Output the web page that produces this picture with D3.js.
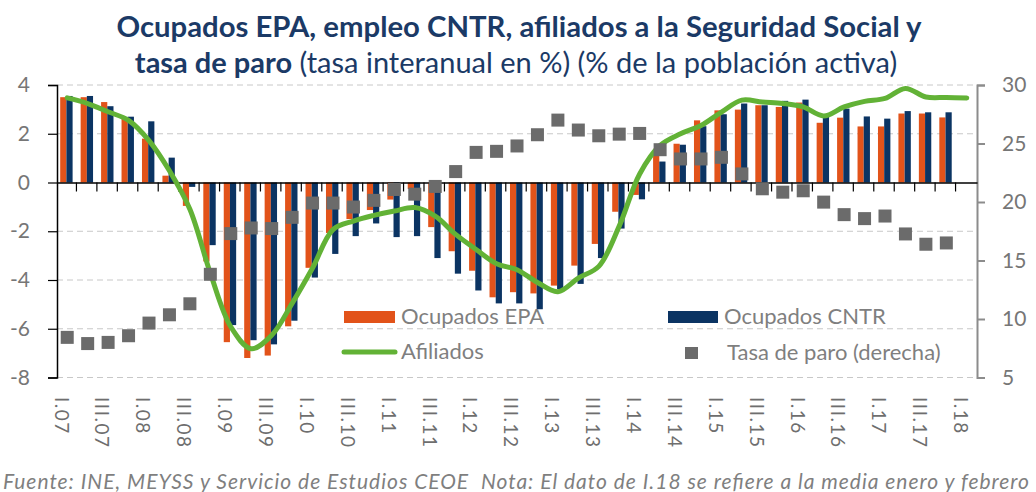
<!DOCTYPE html>
<html>
<head>
<meta charset="utf-8">
<script src="https://cdn.jsdelivr.net/npm/d3@7"></script>
<style>
  body { margin: 0; background: #fff; }
  text { font-family: Lato, "Open Sans", sans-serif; }
</style>
</head>
<body>
<svg id="chart" width="1036" height="492"></svg>
<script>
// quarters I.07 .. I.18
var quarters = [];
for (var yr = 7; yr <= 18; yr++) {
    ["I", "II", "III", "IV"].forEach(function(q) {
        if (yr === 18 && q !== "I") return;
        quarters.push(q + "." + (yr < 10 ? "0" + yr : yr));
    });
}

// Ocupados EPA (% interanual)
var epa = [3.5, 3.5, 3.3, 2.65, 1.8, 0.28, -0.96, -3.24, -6.55, -7.2, -7.1, -5.9,
           -3.5, -2.07, -1.5, -1.13, -0.7, -0.27, -1.83, -2.82, -3.62, -4.71, -4.5, -4.55,
           -4.23, -3.41, -2.52, -1.2, -0.51, 1.38, 1.59, 2.55, 2.96, 2.99, 3.17, 3.1,
           3.28, 2.45, 2.66, 2.3, 2.3, 2.83, 2.83, 2.67, null];
// Ocupados CNTR (% interanual)
var cntr = [3.55, 3.55, 3.13, 2.7, 2.51, 1.02, -0.18, -2.57, -5.85, -6.47, -6.64, -5.67,
            -3.9, -2.93, -2.2, -1.68, -2.24, -2.2, -3.1, -3.74, -4.43, -4.96, -4.96, -5.2,
            -4.38, -4.16, -3.1, -1.89, -0.69, 0.86, 1.55, 2.31, 2.8, 3.24, 3.17, 3.35,
            3.4, 2.69, 3.03, 2.71, 2.62, 2.93, 2.88, 2.88, null];
// Afiliados (% interanual)
var afiliados = [3.47, 3.24, 2.9, 2.55, 1.72, 0.48, -1.1, -3.72, -5.92, -6.82, -6.27, -4.96,
                 -3.51, -1.93, -1.58, -1.35, -1.17, -1.03, -1.38, -2.13, -2.75, -3.33, -3.58, -4.1,
                 -4.48, -3.92, -3.44, -1.79, 0.35, 1.52, 2.0, 2.34, 2.89, 3.38, 3.3, 3.24,
                 3.1, 2.73, 3.1, 3.33, 3.45, 3.86, 3.51, 3.49, 3.47];
// Tasa de paro (% de la poblacion activa, eje derecho)
var paro = [8.43, 7.9, 8.0, 8.57, 9.65, 10.36, 11.3, 13.82, 17.3, 17.78, 17.73, 18.69,
            19.91, 19.91, 19.57, 20.14, 21.07, 20.67, 21.33, 22.6, 24.24, 24.33, 24.79, 25.75,
            27.0, 26.15, 25.66, 25.8, 25.86, 24.47, 23.68, 23.68, 23.82, 22.4, 21.13, 20.84,
            20.96, 19.99, 18.92, 18.58, 18.8, 17.27, 16.39, 16.5, null];

var leftTicks = [4, 2, 0, -2, -4, -6, -8];
var rightTicks = [30, 25, 20, 15, 10, 5];

var colEpa = "#E2531A", colCntr = "#0B3463", colAfil = "#62B236", colParo = "#6B6B6B";

var svg = d3.select("#chart");
var plotLeft = 57, plotRight = 977, plotTop = 85, plotBottom = 377.5;

var x = d3.scaleBand().domain(quarters).range([plotLeft, plotRight]).padding(0);
var xSub = d3.scaleBand().domain(["epa", "cntr"]).range([3.2, 15.6]);
var y = d3.scaleLinear().domain([-8, 4]).range([plotBottom, plotTop]);
var y2 = d3.scaleLinear().domain([5, 30]).range([plotBottom, plotTop]);

// title
svg.append("text")
    .attr("x", 519).attr("y", 37)
    .attr("text-anchor", "middle")
    .style("font-size", "29.3px").style("font-weight", "bold").style("fill", "#1B3A66")
    .text("Ocupados EPA, empleo CNTR, afiliados a la Seguridad Social y");
var t2 = svg.append("text")
    .attr("x", 516).attr("y", 73)
    .attr("text-anchor", "middle")
    .style("font-size", "29px").style("fill", "#1B3A66");
t2.append("tspan").style("font-weight", "bold").text("tasa de paro");
t2.append("tspan").text(" (tasa interanual en %) (% de la población activa)");

// gridlines
svg.append("g").selectAll("line")
    .data(leftTicks.filter(function(d) { return d !== 0; }))
    .join("line")
    .attr("x1", plotLeft).attr("x2", plotRight)
    .attr("y1", function(d) { return y(d); })
    .attr("y2", function(d) { return y(d); })
    .style("stroke", "#C8C8C8").style("stroke-width", 1)
    .style("stroke-dasharray", "6,4");

// bars
var groups = svg.append("g").selectAll("g")
    .data(quarters.map(function(q, i) { return {q: q, epa: epa[i], cntr: cntr[i]}; }))
    .join("g")
    .attr("transform", function(d) { return "translate(" + x(d.q) + ",0)"; });

groups.selectAll("rect")
    .data(function(d) {
        return [{k: "epa", v: d.epa}, {k: "cntr", v: d.cntr}].filter(function(e) { return e.v !== null; });
    })
    .join("rect")
    .attr("x", function(d) { return xSub(d.k); })
    .attr("width", xSub.bandwidth())
    .attr("y", function(d) { return y(Math.max(0, d.v)); })
    .attr("height", function(d) { return Math.abs(y(d.v) - y(0)); })
    .style("fill", function(d) { return d.k === "epa" ? colEpa : colCntr; });

// left axis (plain hyphen for negatives, like the original)
var yAxis = d3.axisLeft(y).tickValues(leftTicks).tickSize(9).tickPadding(18)
    .tickFormat(function(d) { return String(d); });
svg.append("g").attr("transform", "translate(" + plotLeft + ",0)").call(yAxis)
    .call(function(g) {
        g.select(".domain").style("stroke", "#000").style("stroke-width", 1.5);
        g.selectAll(".tick line").style("stroke", "#000").style("stroke-width", 1.2);
        g.selectAll("text").style("font-size", "21px").style("fill", "#767676")
            .style("font-family", "Lato, sans-serif");
    });

// right axis
var yAxis2 = d3.axisRight(y2).tickValues(rightTicks).tickSize(8).tickPadding(17);
svg.append("g").attr("transform", "translate(" + plotRight + ",0)").call(yAxis2)
    .call(function(g) {
        g.select(".domain").style("stroke", "#8C8C8C").style("stroke-width", 2);
        g.selectAll(".tick line").style("stroke", "#8C8C8C").style("stroke-width", 2);
        g.selectAll("text").style("font-size", "21px").style("fill", "#767676")
            .style("font-family", "Lato, sans-serif");
    });

// zero line with category ticks
var xAxis = d3.axisBottom(x).tickSize(0).tickFormat("");
svg.append("g").attr("transform", "translate(0," + y(0) + ")").call(xAxis)
    .call(function(g) {
        g.select(".domain").style("stroke", "#000").style("stroke-width", 1.5);
    });
svg.append("g").selectAll("line")
    .data(quarters.slice(1))
    .join("line")
    .attr("x1", function(d) { return x(d) - 1; })
    .attr("x2", function(d) { return x(d) - 1; })
    .attr("y1", y(0)).attr("y2", y(0) + 9)
    .style("stroke", "#000").style("stroke-width", 1.2);

// category labels (every second quarter)
svg.append("g").selectAll("text")
    .data(quarters.filter(function(d, i) { return i % 2 === 0; }))
    .join("text")
    .attr("transform", function(d) {
        return "translate(" + (x(d) + x.bandwidth() / 2 - 6) + ",397) rotate(90)";
    })
    .attr("dy", "0.35em")
    .style("font-size", "19px").style("fill", "#6E6E6E")
    .style("letter-spacing", "1.5px")
    .text(function(d) { return d; });

// afiliados line
var line = d3.line()
    .defined(function(d) { return d !== null; })
    .x(function(d, i) { return x(quarters[i]) + x.bandwidth() / 2; })
    .y(function(d) { return y(d); })
    .curve(d3.curveCatmullRom.alpha(0.5));

svg.append("path")
    .datum(afiliados)
    .attr("d", line)
    .style("fill", "none").style("stroke", colAfil)
    .style("stroke-width", 5).style("stroke-linecap", "round")
    .style("stroke-linejoin", "round");

// tasa de paro squares
svg.append("g").selectAll("rect")
    .data(paro.map(function(v, i) { return {q: quarters[i], v: v}; })
        .filter(function(d) { return d.v !== null; }))
    .join("rect")
    .attr("x", function(d) { return x(d.q) + x.bandwidth() / 2 - 6.5; })
    .attr("y", function(d) { return y2(d.v) - 6.5; })
    .attr("width", 13).attr("height", 13)
    .style("fill", colParo);

// legend
var legend = svg.append("g");
legend.append("rect").attr("x", 344).attr("y", 311).attr("width", 51).attr("height", 12)
    .style("fill", colEpa);
legend.append("rect").attr("x", 668).attr("y", 311).attr("width", 50).attr("height", 12)
    .style("fill", colCntr);
legend.append("line").attr("x1", 344).attr("x2", 395).attr("y1", 352).attr("y2", 352)
    .style("stroke", colAfil).style("stroke-width", 5).style("stroke-linecap", "round");
legend.append("rect").attr("x", 685).attr("y", 347).attr("width", 13).attr("height", 12)
    .style("fill", colParo);

var legendText = [
    {t: "Ocupados EPA", x: 401, y: 324},
    {t: "Ocupados CNTR", x: 724, y: 324},
    {t: "Afiliados", x: 401, y: 359},
    {t: "Tasa de paro (derecha)", x: 727, y: 360}
];
legend.selectAll("text").data(legendText).join("text")
    .attr("x", function(d) { return d.x; })
    .attr("y", function(d) { return d.y; })
    .style("font-size", "22px").style("fill", "#7F7F7F")
    .text(function(d) { return d.t; });

// footer
svg.append("text")
    .attr("x", 3).attr("y", 489)
    .attr("textLength", 1026).attr("lengthAdjust", "spacing")
    .attr("xml:space", "preserve")
    .style("font-size", "21px").style("font-style", "italic").style("fill", "#7F7F7F")
    .text("Fuente: INE, MEYSS y Servicio de Estudios CEOE  Nota: El dato de I.18 se refiere a la media enero y febrero");
</script>
</body>
</html>
